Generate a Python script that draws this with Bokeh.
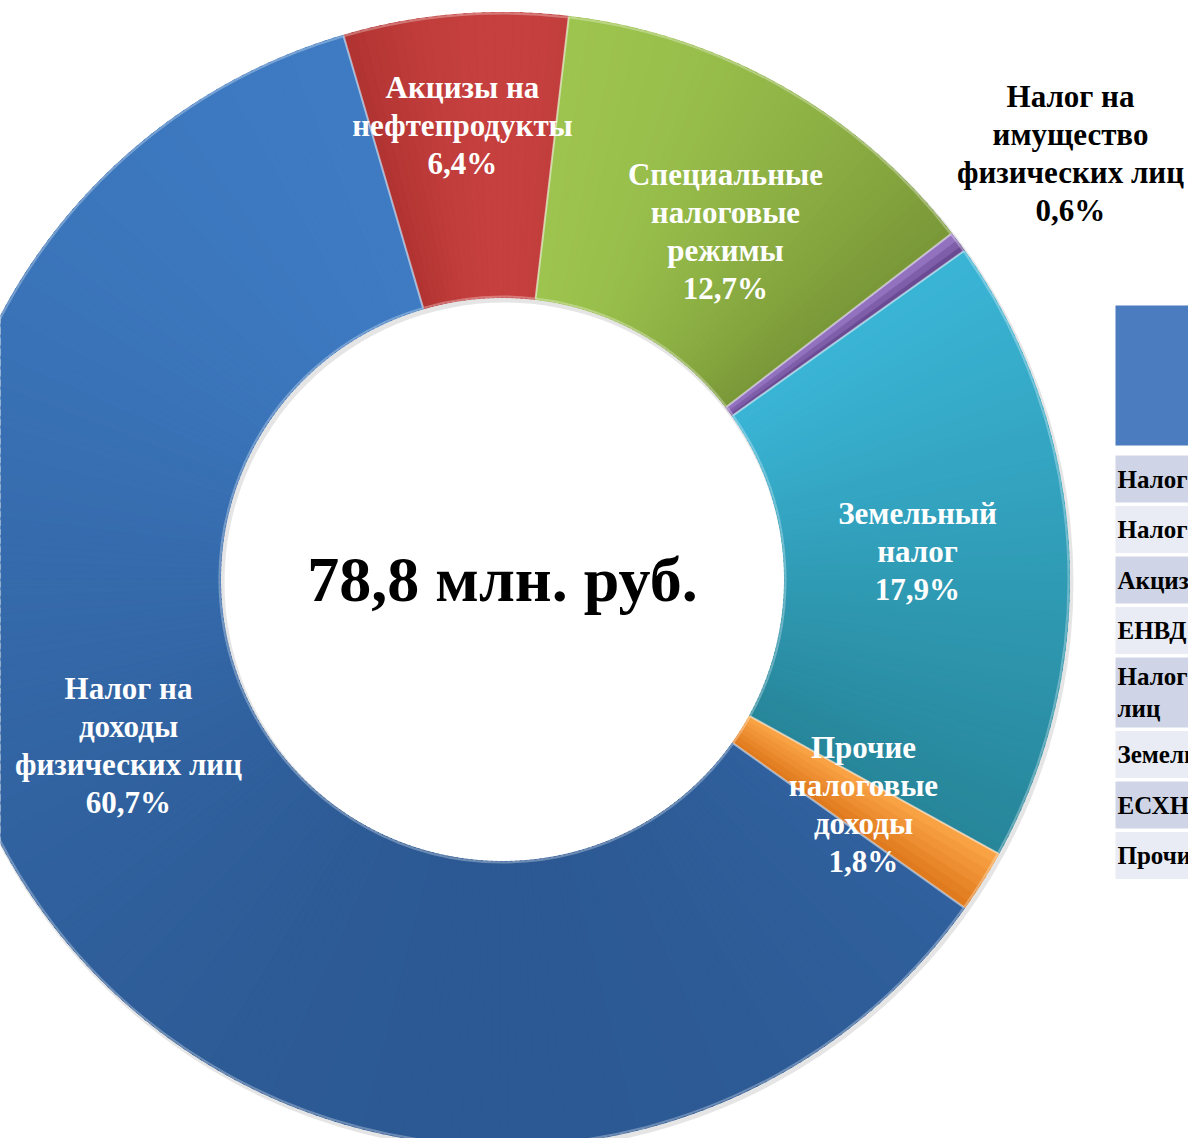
import numpy as np
from bokeh.plotting import figure
from bokeh.models import Range1d, ColumnDataSource
from bokeh.core.properties import value
from bokeh.embed import file_html
from bokeh.resources import INLINE

# ---------------- data ----------------
categories = [
    "Акцизы на\nнефтепродукты",
    "Специальные\nналоговые\nрежимы",
    "Налог на\nимущество\nфизических лиц",
    "Земельный\nналог",
    "Прочие\nналоговые\nдоходы",
    "Налог на\nдоходы\nфизических лиц",
]
shares = [6.4, 12.7, 0.6, 17.9, 1.8, 60.7]
total_text = "78,8 млн. руб."

table_rows = [
    "Налог на доходы физических лиц",
    "Налог по упрощенной системе",
    "Акцизы на нефтепродукты",
    "ЕНВД",
    "Налог на имущество физических\nлиц",
    "Земельный налог",
    "ЕСХН",
    "Прочие налоговые доходы",
]

# ---------------- style / layout ----------------
seg_light = ["#c5403e", "#9dc44e", "#9272bf", "#3ab4d5", "#f8a244", "#3e7bc3"]
seg_dark = ["#b23432", "#7a9838", "#6a4a92", "#27869a", "#e07a1e", "#2c5993"]
label_color = ["white", "white", "black", "white", "white", "white"]
# label block centres in reference pixel coordinates
label_pos = [(462, 125), (725, 231), (1070, 153), (917, 551), (863, 804), (128, 745)]

W, H = 1188, 1138
PAGE_H = 1141


def Y(py):
    return PAGE_H - py


CX, CY = 502, Y(579)
R_OUT, R_IN = 567, 282
START_DEG = 106.3

p = figure(width=W, height=H, output_backend="svg", toolbar_location=None,
           x_range=Range1d(0, W), y_range=Range1d(PAGE_H - H, PAGE_H),
           min_border=0)
p.axis.visible = False
p.grid.visible = False
p.outline_line_color = None
p.background_fill_color = "white"
p.border_fill_color = "white"


def hex2rgb(h):
    h = h.lstrip("#")
    return np.array([int(h[i:i + 2], 16) for i in (0, 2, 4)], dtype=float)


def rgb2hex(c):
    c = np.clip(np.round(c), 0, 255).astype(int)
    return "#%02x%02x%02x" % tuple(c)


# faint shadow around the ring
p.annular_wedge(x=CX + 2, y=CY - 3, inner_radius=R_IN - 2, outer_radius=R_OUT + 2,
                start_angle=0, end_angle=2 * np.pi, fill_color="#888888",
                fill_alpha=0.22, line_color=None)

tot = sum(shares)
cum = np.concatenate([[0.0], np.cumsum(shares)]) / tot
rm = (R_IN + R_OUT) / 2
seg_start, seg_end = [], []
for i in range(len(shares)):
    a_hi = np.radians(START_DEG - 360 * cum[i])
    a_lo = np.radians(START_DEG - 360 * cum[i + 1])
    seg_start.append(a_lo)
    seg_end.append(a_hi)
    n = max(3, int(np.ceil(np.degrees(a_hi - a_lo) / 1.0)))
    edges = np.linspace(a_lo, a_hi, n + 1)
    mids = (edges[:-1] + edges[1:]) / 2
    ys = CY + rm * np.sin(mids)
    rng = ys.max() - ys.min()
    t = (ys.max() - ys) / rng if rng > 0 else np.full_like(ys, 0.5)
    lo_c, hi_c = hex2rgb(seg_light[i]), hex2rgb(seg_dark[i])
    cols = [rgb2hex(lo_c + (hi_c - lo_c) * tt) for tt in t]
    pad = np.radians(0.12)
    s = edges[:-1] - pad
    e = edges[1:] + pad
    s[0] = edges[0]
    e[-1] = edges[-1]
    src = ColumnDataSource(dict(s=s, e=e, c=cols))
    p.annular_wedge(x=CX, y=CY, inner_radius=R_IN, outer_radius=R_OUT,
                    start_angle="s", end_angle="e", fill_color="c",
                    line_color="c", line_width=0.8, source=src)

# bevel-like highlight outlines
p.annular_wedge(x=CX, y=CY, inner_radius=R_IN + 1, outer_radius=R_OUT - 1,
                start_angle=seg_start, end_angle=seg_end, fill_color=None,
                line_color="white", line_alpha=0.3, line_width=2)

# labels
pct = [("%.1f" % v).replace(".", ",") + "%" for v in shares]
lab_src = ColumnDataSource(dict(
    x=[lp[0] for lp in label_pos],
    y=[Y(lp[1]) for lp in label_pos],
    t=[c + "\n" + q for c, q in zip(categories, pct)],
    col=label_color,
))
p.text(x="x", y="y", text="t", source=lab_src, text_align="center",
       text_baseline="middle", text_font=value("Liberation Serif"),
       text_font_style="bold", text_font_size="31px", text_line_height=1.08,
       text_color="col")

# centre total
p.text(x=[CX], y=[CY], text=[total_text], text_align="center",
       text_baseline="middle", text_font=value("Liberation Serif"),
       text_font_style="bold", text_font_size="64px", text_color="black")

# ---------------- partially visible table on the right ----------------
TX = 1115
p.quad(left=[TX], right=[TX + 200], top=[Y(305)], bottom=[Y(445)],
       fill_color="#4a7cbf", line_color=None)
row_tops, row_bots, row_cols, row_mid = [], [], [], []
y0 = 455.0
for k, r in enumerate(table_rows):
    nl = r.count("\n") + 1
    h = 47 + 23 * (nl - 1)
    row_tops.append(Y(y0))
    row_bots.append(Y(y0 + h))
    row_mid.append(Y(y0 + h / 2))
    row_cols.append("#cfd5e6" if k % 2 == 0 else "#e9ecf4")
    y0 += h + 3.5
p.quad(left=[TX] * len(table_rows), right=[TX + 200] * len(table_rows),
       top=row_tops, bottom=row_bots, fill_color=row_cols, line_color=None)
p.text(x=[TX + 2] * len(table_rows), y=row_mid, text=table_rows,
       text_align="left", text_baseline="middle",
       text_font=value("Liberation Serif"), text_font_style="bold",
       text_font_size="25px", text_line_height=1.22, text_color="black")

open("out.html", "w").write(file_html(p, INLINE))
